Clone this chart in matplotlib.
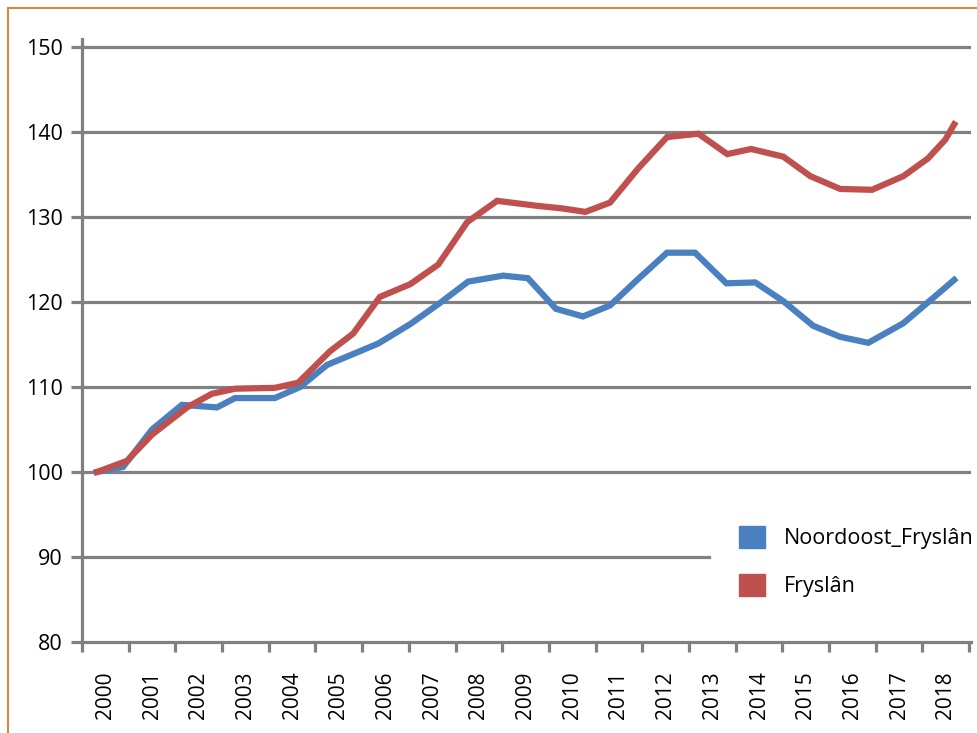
import matplotlib.pyplot as plt
from matplotlib.patches import Patch, Rectangle

plt.rcParams['font.family'] = ['Open Sans', 'DejaVu Sans']

years = [str(y) for y in range(2000, 2019)]

# x in years since start of 2000 (category cells are one year wide)
noordoost_x = [0.32, 0.88, 1.50, 2.14, 2.89, 3.28, 4.13, 4.67, 5.25, 6.34, 7.03,
               7.67, 8.27, 9.02, 9.55, 10.15, 10.73, 11.31, 11.91, 12.53, 13.13,
               13.80, 14.42, 15.02, 15.66, 16.24, 16.84, 17.59, 18.17, 18.68]
noordoost_y = [100.0, 100.6, 105.0, 107.9, 107.6, 108.7, 108.7, 110.0, 112.6, 115.1, 117.4,
               119.9, 122.4, 123.1, 122.8, 119.2, 118.3, 119.6, 122.7, 125.8, 125.8,
               122.2, 122.3, 120.1, 117.2, 115.9, 115.2, 117.5, 120.2, 122.6]

fryslan_x = [0.32, 0.96, 1.50, 2.25, 2.78, 3.28, 4.13, 4.63, 5.31, 5.81, 6.38, 7.03,
             7.63, 8.25, 8.89, 9.77, 10.30, 10.78, 11.31, 11.91, 12.53, 13.20, 13.82,
             14.33, 15.02, 15.60, 16.24, 16.92, 17.59, 18.12, 18.49, 18.68]
fryslan_y = [100.0, 101.3, 104.4, 107.6, 109.2, 109.8, 109.9, 110.5, 114.2, 116.3, 120.6, 122.1,
             124.4, 129.4, 131.9, 131.3, 131.0, 130.6, 131.7, 135.7, 139.4, 139.8, 137.4,
             138.0, 137.1, 134.8, 133.3, 133.2, 134.8, 136.9, 139.1, 140.9]

y_ticks = [80, 90, 100, 110, 120, 130, 140, 150]

blue = '#4a80c0'
red = '#c0504d'
grey = '#808080'

fig = plt.figure(figsize=(9.77, 7.33), dpi=100)
fig.patches.append(Rectangle((8 / 977, -0.1), 1.2, 1 - 8 / 733 + 0.1, transform=fig.transFigure,
                             fill=False, edgecolor='#d9893a', linewidth=1.5))
ax = fig.add_axes([82 / 977, 1 - 642 / 733, (971 - 82) / 977, (642 - 38.5) / 733])

for v in y_ticks[1:]:
    xmax = 0.705 if v == 90 else 1.0
    ax.axhline(v, xmin=0, xmax=xmax, color=grey, linewidth=2.3, zorder=1)

ax.plot(noordoost_x, noordoost_y, color=blue, linewidth=4.5, zorder=3, solid_joinstyle='miter')
ax.plot(fryslan_x, fryslan_y, color=red, linewidth=4.5, zorder=3, solid_joinstyle='miter')

ax.set_xlim(0, 19.04)
ax.set_ylim(80, 151)

for s in ['top', 'right']:
    ax.spines[s].set_visible(False)
for s in ['left', 'bottom']:
    ax.spines[s].set_color(grey)
    ax.spines[s].set_linewidth(2.3)

ax.set_yticks(y_ticks)
ax.tick_params(axis='y', length=8, width=2.3, color=grey, labelsize=15.5, pad=6)

ax.set_xticks(range(0, 20))
ax.set_xticklabels([])
ax.tick_params(axis='x', which='major', length=7, width=2.3, color=grey)
ax.set_xticks([i + 0.5 for i in range(19)], minor=True)
ax.set_xticklabels(years, minor=True, rotation=90, fontsize=15)
ax.tick_params(axis='x', which='minor', length=0, pad=21)

handles = [Patch(facecolor=blue, edgecolor=blue), Patch(facecolor=red, edgecolor=red)]
ax.legend(handles, ['Noordoost_Fryslân', 'Fryslân'], loc='upper left',
          bbox_to_anchor=(0.729, 0.207), frameon=False, fontsize=15.5,
          handlelength=1.2, handleheight=1.2, labelspacing=1.15, handletextpad=0.9,
          borderaxespad=0)

fig.savefig('out.png', dpi=100)
